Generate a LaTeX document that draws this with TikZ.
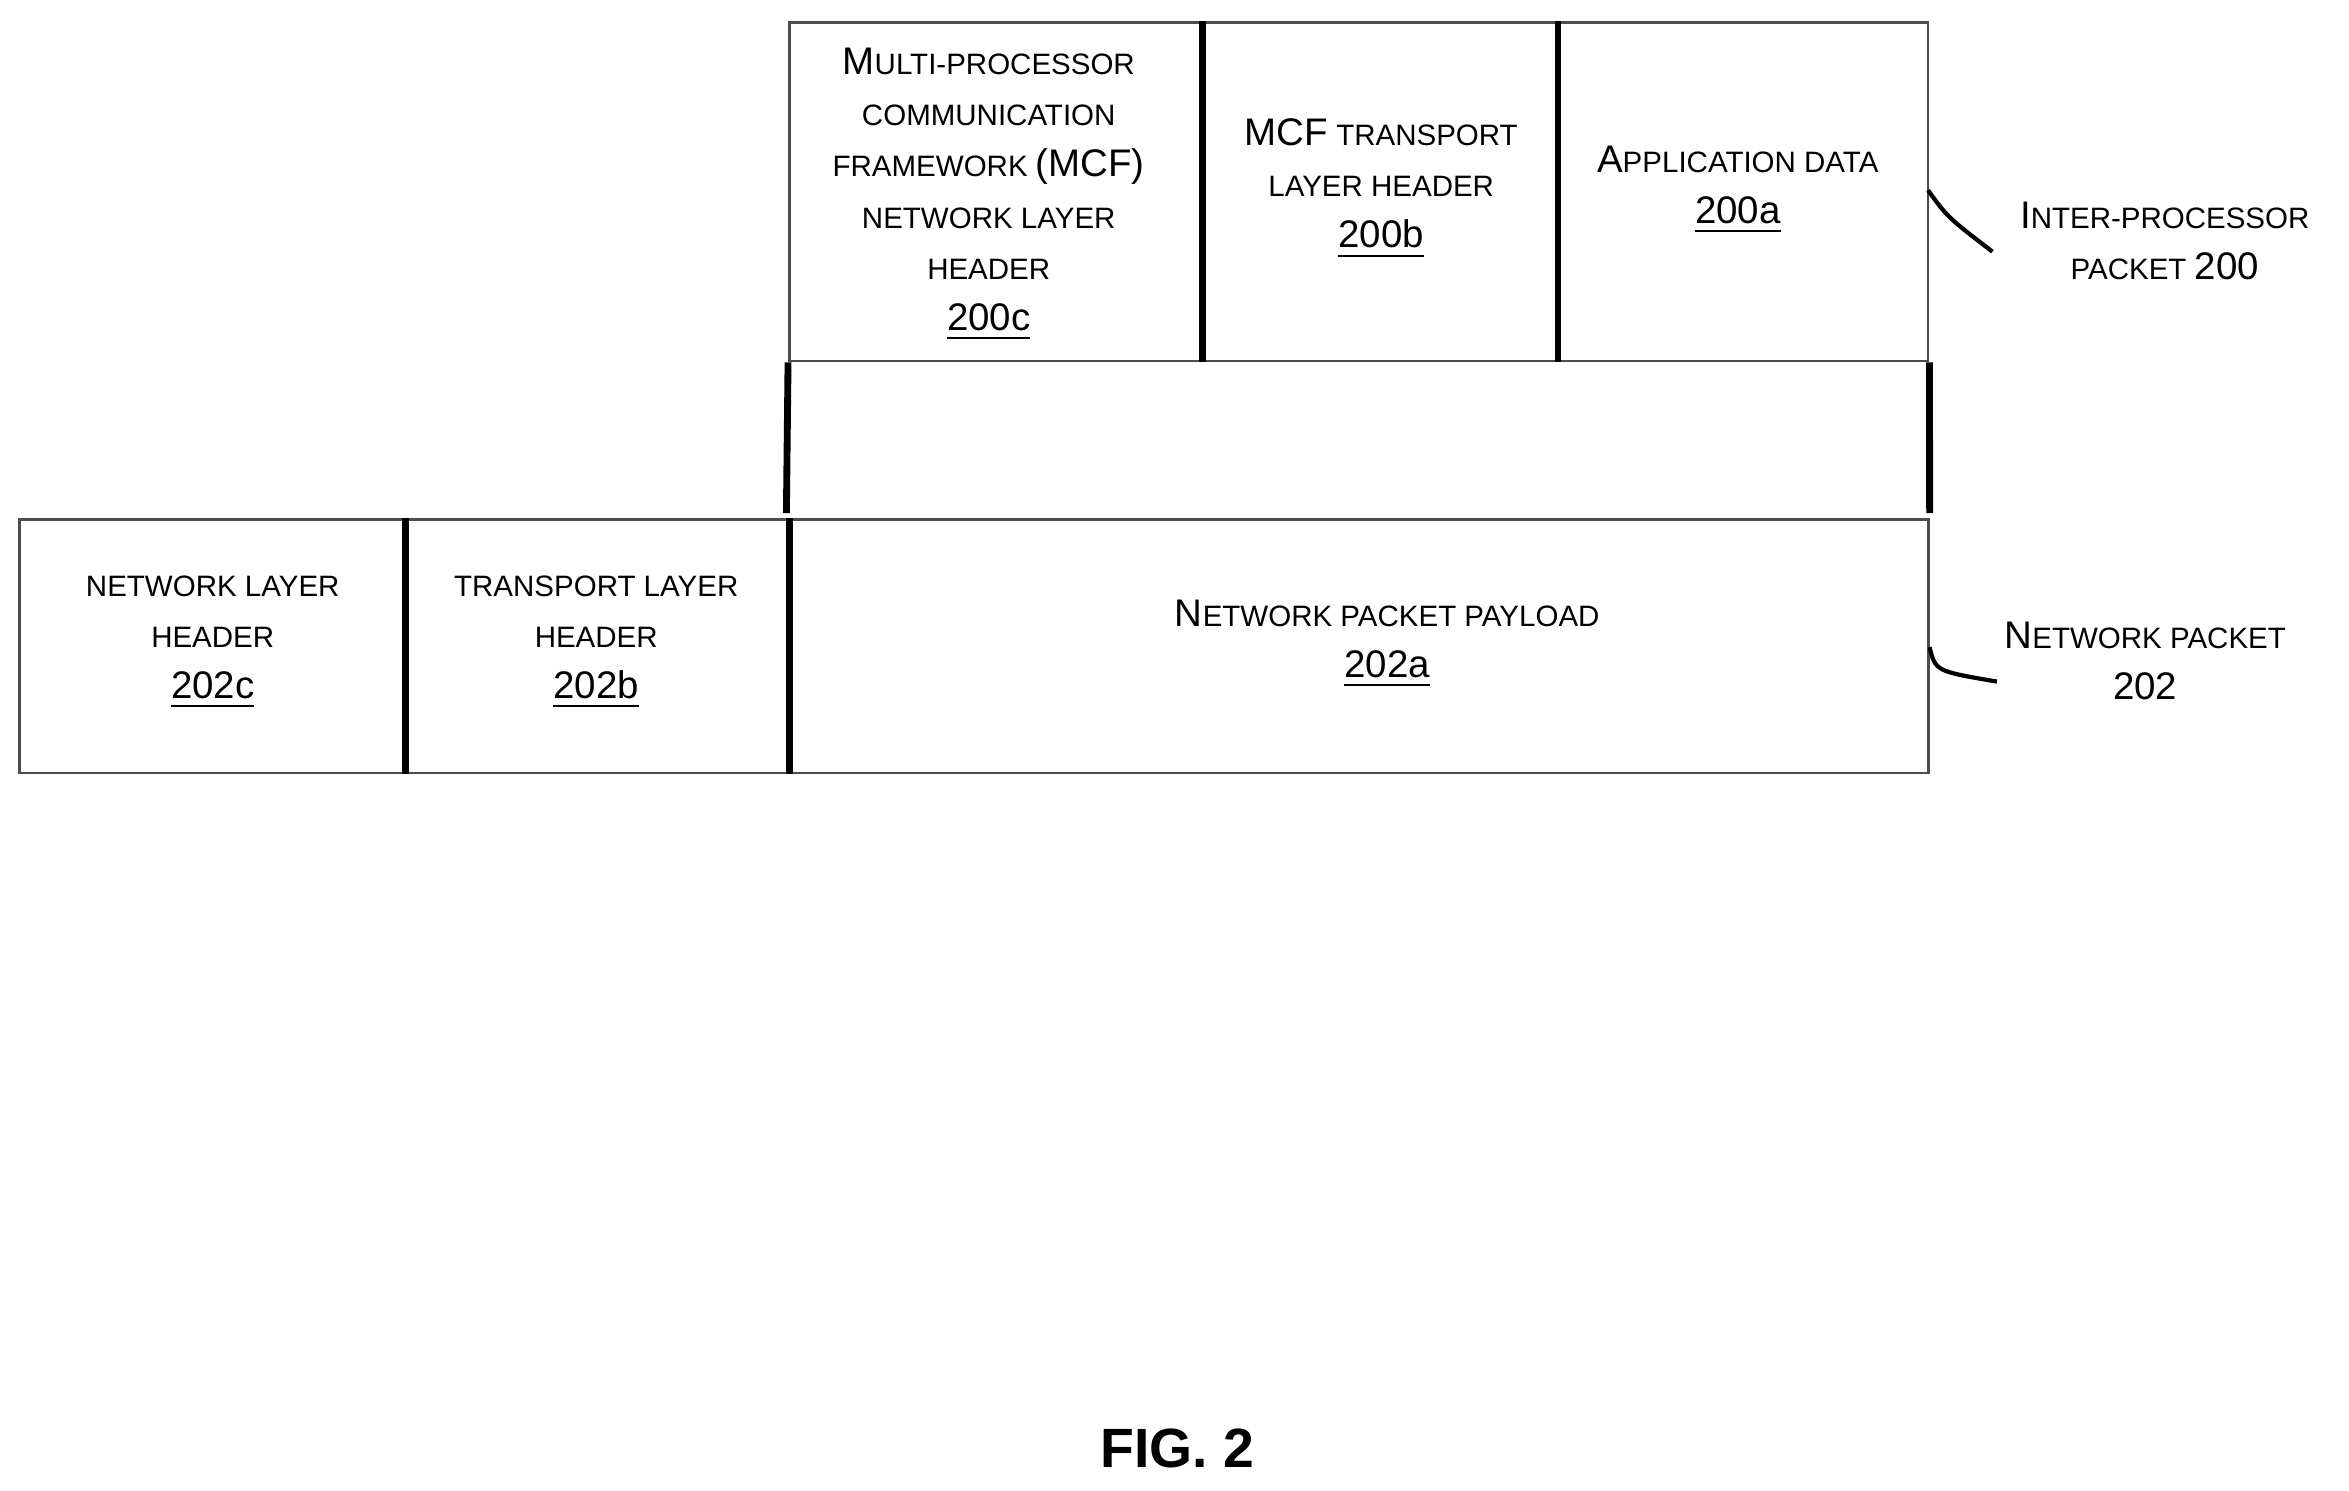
\documentclass[tikz,border=0pt]{standalone}
\usepackage{fontspec}
\setmainfont{Liberation Sans}
\usetikzlibrary{positioning}
\newcommand\B[1]{{\fontsize{7.3}{9.7}\selectfont #1}}
\newcommand\N[1]{{\fontsize{7.3}{9.7}\selectfont\underline{#1}}}
\tikzset{
  cell/.style={draw=black!70, line width=0.5pt, inner sep=0pt},
  lbl/.style={align=center, font=\fontsize{5.6}{9.7}\selectfont},
  divider/.style={line width=1.3pt},
}
\begin{document}
\begin{tikzpicture}[x=0.01cm, y=-0.01cm]
  \useasboundingbox (0,0) rectangle (1568,995);
  % inter-processor packet
  \node[cell, minimum width=275\pgflinewidth, minimum width=2.75cm, minimum height=2.26cm] (c200c) at (664.5,128) {};
  \node[cell, minimum width=2.37cm, minimum height=2.26cm] (c200b) at (920.5,128) {};
  \node[cell, minimum width=2.48cm, minimum height=2.26cm] (c200a) at (1163,128) {};
  \draw[divider] (c200c.north east) -- (c200c.south east);
  \draw[divider] (c200b.north east) -- (c200b.south east);
  \node[lbl] at (660,130) {\B{M}ULTI-PROCESSOR\\COMMUNICATION\\FRAMEWORK \B{(MCF)}\\NETWORK LAYER\\HEADER\\\N{200c}};
  \node[lbl] at (922,126) {\B{MCF} TRANSPORT\\LAYER HEADER\\\N{200b}};
  \node[lbl] at (1160,127) {\B{A}PPLICATION DATA\\\N{200a}};
  % network packet
  \node[cell, minimum width=2.57cm, minimum height=1.69cm] (c202c) at (141.5,431.5) {};
  \node[cell, minimum width=2.56cm, minimum height=1.69cm] (c202b) at (398,431.5) {};
  \node[cell, minimum width=7.61cm, minimum height=1.69cm] (c202a) at (906.5,431.5) {};
  \draw[divider] (c202c.north east) -- (c202c.south east);
  \draw[divider] (c202b.north east) -- (c202b.south east);
  \node[lbl] at (142,429) {NETWORK LAYER\\HEADER\\\N{202c}};
  \node[lbl] at (398,429) {TRANSPORT LAYER\\HEADER\\\N{202b}};
  \node[lbl] at (926,430) {\B{N}ETWORK PACKET PAYLOAD\\\N{202a}};
  % dashed links
  \draw[divider, dash pattern=on 22\pgflinewidth off 18\pgflinewidth] (c200c.south west) -- (c202a.north west);
  \draw[divider, dash pattern=on 22\pgflinewidth off 18\pgflinewidth] (c200a.south east) -- (c202a.north east);
  % callouts
  \node[lbl] (l200) at (1445,161) {\B{I}NTER-PROCESSOR\\PACKET \B{200}};
  \node[lbl] (l202) at (1432,441) {\B{N}ETWORK PACKET\\\B{202}};
  \coordinate (t200) at (1330,168);
  \coordinate (t202) at (1333,455);
  \draw[line width=0.8pt] (1287,127) .. controls (1300,145) .. (t200);
  \draw[line width=0.8pt] (1288,432) .. controls (1292,448) .. (t202);
  \node[font=\fontsize{10.5}{12}\selectfont\bfseries] (fig) at (786,967) {FIG. 2};
\end{tikzpicture}
\end{document}
